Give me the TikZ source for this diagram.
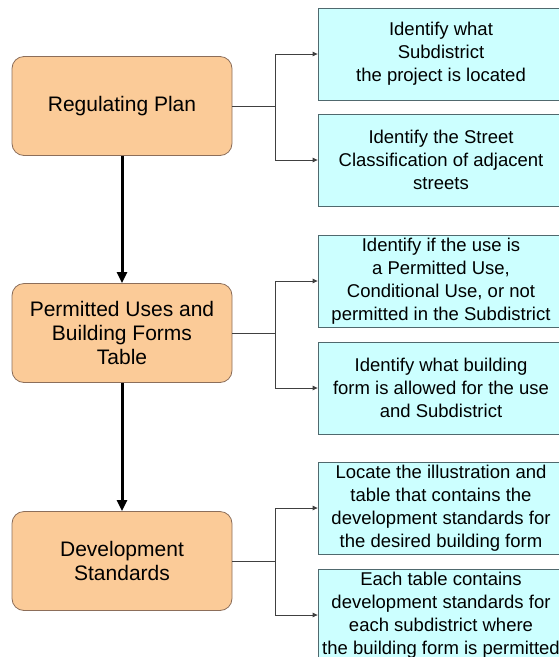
\documentclass[tikz,border=0pt]{standalone}
\usepackage{fontspec}
\setmainfont{Liberation Sans}
\usetikzlibrary{arrows.meta, positioning, calc}
\definecolor{colStep}{RGB}{251, 203, 152}
\definecolor{colStepLine}{RGB}{140, 110, 90}
\definecolor{colTask}{RGB}{204, 255, 255}
\definecolor{colTaskLine}{RGB}{80, 105, 110}

\tikzset{
    stepbox/.style={draw=colStepLine, fill=colStep, rounded corners=12pt, line width=0.8pt,
        minimum width=220pt, minimum height=99pt, align=center, inner sep=1pt,
        font=\fontsize{21}{24}\selectfont},
    taskbox/.style={draw=colTaskLine, fill=colTask, line width=0.8pt,
        minimum width=246pt, minimum height=92pt, align=center, inner sep=1pt,
        font=\fontsize{18.5}{23}\selectfont},
    flow/.style={line width=3pt, -{Triangle[length=11pt,width=10pt]}},
    branch/.style={black!75, line width=0.8pt},
    twig/.style={branch, -{Triangle[length=5pt,width=4.5pt]}}
}

\begin{document}
\begin{tikzpicture}[x=1pt, y=-1pt]
    \useasboundingbox (0, 0) rectangle (559, 657);
    \clip (0, 0) rectangle (559, 657);

    % --- Langkah utama ---
    \node[stepbox] (plan) at (122, 106) {Regulating Plan};
    \node[stepbox] (uses) at (122, 333) {Permitted Uses and\\Building Forms\\Table};
    \node[stepbox] (std)  at (122, 561) {Development\\Standards};

    % --- Tugas tiap langkah ---
    \node[taskbox] (subd)   at (441, 54)  {Identify what\\Subdistrict\\the project is located};
    \node[taskbox] (street) at (441, 160) {Identify the Street\\Classification of adjacent\\streets};
    \node[taskbox] (use)    at (441, 281) {Identify if the use is\\a Permitted Use,\\Conditional Use, or not\\permitted in the Subdistrict};
    \node[taskbox] (form)   at (441, 388) {Identify what building\\form is allowed for the use\\and Subdistrict};
    \node[taskbox] (table)  at (441, 508) {Locate the illustration and\\table that contains the\\development standards for\\the desired building form};
    \node[taskbox] (each)   at (441, 615) {Each table contains\\development standards for\\each subdistrict where\\the building form is permitted};

    % Panah tebal antar langkah
    \draw[flow] (plan) -- (uses);
    \draw[flow] (uses) -- (std);

    % Cabang ke kotak tugas
    \coordinate (jPlan) at (275, 106);
    \coordinate (jUses) at (275, 333);
    \coordinate (jStd)  at (275, 561);
    \foreach \s/\j/\a/\b in {plan/jPlan/subd/street, uses/jUses/use/form, std/jStd/table/each} {
        \draw[branch] (\s.east) -- (\j);
        \draw[twig] (\j) |- (\a.west);
        \draw[twig] (\j) |- (\b.west);
    }

\end{tikzpicture}
\end{document}
